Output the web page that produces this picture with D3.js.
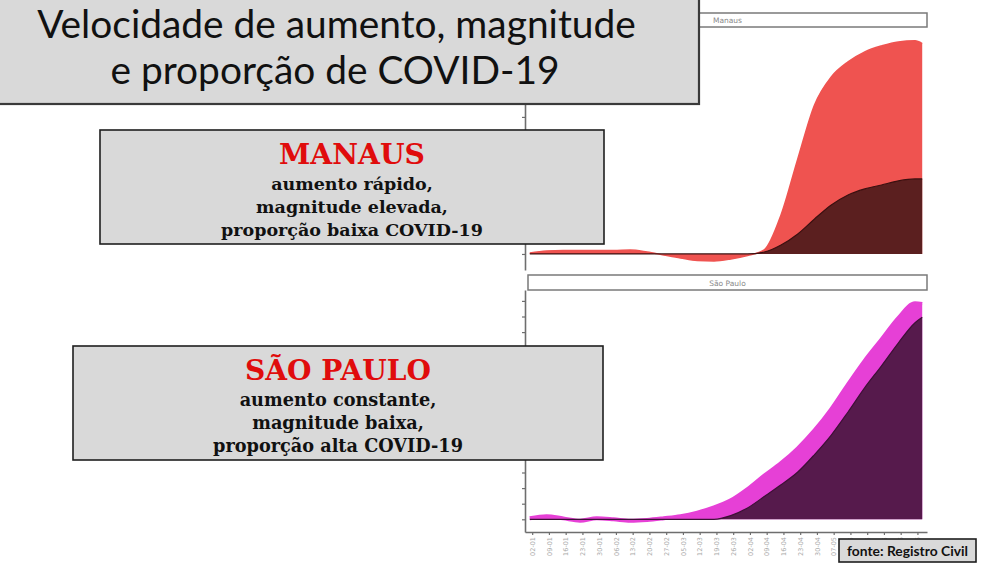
<!DOCTYPE html>
<html>
<head>
<meta charset="utf-8">
<script src="https://cdn.jsdelivr.net/npm/d3@7"></script>
<style>
  html, body { margin: 0; padding: 0; background: #ffffff; }
  svg { display: block; }
</style>
</head>
<body>
<svg id="chart" width="984" height="566"></svg>
<script>
// ---------- DATA ----------
const weekDates = ["2020-01-01","2020-01-08","2020-01-15","2020-01-22","2020-01-29","2020-02-05",
  "2020-02-12","2020-02-19","2020-02-26","2020-03-04","2020-03-11","2020-03-18","2020-03-25",
  "2020-04-01","2020-04-08","2020-04-15","2020-04-22","2020-04-29","2020-05-06","2020-05-13",
  "2020-05-20","2020-05-27","2020-06-03","2020-06-10","2020-06-13"];

const manausTotal = [15,44,51,51,51,51,58,29,-15,-58,-95,-102,-73,-22,60,569,1387,2175,2584,2803,2949,3036,3095,3110,3070];
const manausCovid = [0,0,0,0,0,0,0,0,0,0,0,0,0,0,29,131,292,511,715,861,949,1007,1066,1095,1095];

const spTotal = [64,200,60,-90,60,0,-90,-40,70,200,430,760,1220,1940,2800,3600,4550,5700,7060,8650,10170,11530,12900,13850,13800];
const spCovid = [0,0,0,0,0,0,0,0,0,0,0,0,240,730,1460,2210,3030,4150,5400,6880,8440,9840,11300,12600,12950];

const tickDates = ["2020-01-02","2020-01-09","2020-01-16","2020-01-23","2020-01-30","2020-02-06",
  "2020-02-13","2020-02-20","2020-02-27","2020-03-05","2020-03-12","2020-03-19","2020-03-26",
  "2020-04-02","2020-04-09","2020-04-16","2020-04-23","2020-04-30","2020-05-07","2020-05-14",
  "2020-05-21","2020-05-28","2020-06-04","2020-06-11"];

const manausYTicks = [0,1000,2000,3000];
const spYTicks = [0,1000,2000,3000,4000,5000,6000,7000,8000,9000,10000,11000,12000,13000,14000];

const panelNames = ["Manaus", "São Paulo"];
const titleLines = ["Velocidade de aumento, magnitude", "e proporção de COVID-19"];
const manausBox = ["MANAUS", "aumento rápido,", "magnitude elevada,", "proporção baixa COVID-19"];
const spBox = ["SÃO PAULO", "aumento constante,", "magnitude baixa,", "proporção alta COVID-19"];
const sourceText = "fonte: Registro Civil";

// ---------- SETUP ----------
const svg = d3.select("#chart");
const parse = d3.timeParse("%Y-%m-%d");
const dts = weekDates.map(parse);

const x = d3.scaleTime()
  .domain([new Date(2019, 11, 30), new Date(2020, 5, 15)])
  .range([525, 927]);

function fitText(sel, target) {
  const w = sel.node().getComputedTextLength();
  const fs = parseFloat(sel.attr("font-size"));
  sel.attr("font-size", fs * target / w);
}

function drawPanel(opts) {
  const g = svg.append("g");
  const y = d3.scaleLinear().domain(opts.domain).range([opts.bottom, opts.top]);
  const tot = dts.map((d, i) => ({ d, v: opts.total[i] }));
  const cov = dts.map((d, i) => ({ d, v: opts.covid[i] }));

  const area = d3.area()
    .x(p => x(p.d))
    .y0(y(0))
    .y1(p => y(p.v))
    .curve(d3.curveMonotoneX);
  const line = d3.line().x(p => x(p.d)).y(p => y(p.v)).curve(d3.curveMonotoneX);

  g.append("path").datum(tot).attr("d", area).attr("fill", opts.light);
  g.append("path").datum(tot).attr("d", line).attr("fill", "none")
    .attr("stroke", opts.light).attr("stroke-width", opts.lightStroke).attr("stroke-linejoin", "round");
  g.append("path").datum(cov).attr("d", area).attr("fill", opts.dark);
  g.append("path").datum(cov).attr("d", line).attr("fill", "none")
    .attr("stroke", opts.darkLine).attr("stroke-width", 1.2);

  // strip
  g.append("rect")
    .attr("x", 528).attr("y", opts.stripTop)
    .attr("width", 399).attr("height", opts.top - opts.stripTop)
    .attr("fill", "#ffffff").attr("stroke", "#7a7a7a").attr("stroke-width", 1.5);
  g.append("text")
    .attr("x", (528 + 927) / 2).attr("y", opts.stripTop + (opts.top - opts.stripTop) / 2 + 3)
    .attr("text-anchor", "middle")
    .attr("font-family", "DejaVu Sans, sans-serif").attr("font-size", 7.5)
    .attr("fill", "#8a8a8a")
    .text(opts.name);

  // y axis
  const ya = g.append("g").attr("transform", "translate(525,0)")
    .call(d3.axisLeft(y).tickValues(opts.yTicks).tickSize(3).tickSizeOuter(0).tickFormat(""));
  ya.select(".domain").attr("stroke", "#6e6e6e").attr("stroke-width", 1.6);
  ya.selectAll(".tick line").attr("stroke", "#6e6e6e").attr("stroke-width", 1.2);
  return y;
}

drawPanel({
  name: panelNames[0], stripTop: 13, top: 27, bottom: 270,
  domain: [-234, 3285 * (243 / 241)],
  total: manausTotal, covid: manausCovid,
  light: "#ef5350", lightStroke: 1.5, dark: "#5b1f1f", darkLine: "#3b1010",
  yTicks: manausYTicks
});

drawPanel({
  name: panelNames[1], stripTop: 275, top: 290, bottom: 532,
  domain: [-814, 14699],
  total: spTotal, covid: spCovid,
  light: "#e640d6", lightStroke: 4, dark: "#561a4c", darkLine: "#3d1036",
  yTicks: spYTicks
});

// x axis
const xa = svg.append("g").attr("transform", "translate(0,532)")
  .call(d3.axisBottom(x).tickValues(tickDates.map(parse)).tickSize(3).tickSizeOuter(0)
    .tickFormat(d3.timeFormat("%d-%m")));
xa.select(".domain").attr("stroke", "#6e6e6e").attr("stroke-width", 1.6);
xa.selectAll(".tick line").attr("stroke", "#6e6e6e").attr("stroke-width", 1.2);
xa.selectAll(".tick text")
  .attr("transform", "rotate(-90)")
  .attr("x", -5).attr("y", 0).attr("dy", "0.35em")
  .attr("text-anchor", "end")
  .attr("font-family", "DejaVu Sans, sans-serif")
  .attr("font-size", 6.5)
  .attr("fill", "#a8a8a8");

// ---------- TITLE BOX ----------
svg.append("rect").attr("x", -3).attr("y", -3).attr("width", 702).attr("height", 107)
  .attr("fill", "#d9d9d9").attr("stroke", "#3a3a3a").attr("stroke-width", 2.2);
const t1 = svg.append("text").attr("x", 336.5).attr("y", 37.5).attr("text-anchor", "middle")
  .attr("font-family", "Lato, sans-serif").attr("font-size", 36).attr("fill", "#111")
  .text(titleLines[0]);
fitText(t1, 599);
const t2 = svg.append("text").attr("x", 335).attr("y", 83.5).attr("text-anchor", "middle")
  .attr("font-family", "Lato, sans-serif").attr("font-size", t1.attr("font-size")).attr("fill", "#111")
  .text(titleLines[1]);

// ---------- TEXT BOXES ----------
function textBox(b) {
  svg.append("rect").attr("x", b.x0).attr("y", b.y0).attr("width", b.x1 - b.x0).attr("height", b.y1 - b.y0)
    .attr("fill", "#d9d9d9").attr("stroke", "#1e1e1e").attr("stroke-width", 1.6);
  const cx = (b.x0 + b.x1) / 2;
  const head = svg.append("text").attr("x", cx).attr("y", b.base[0]).attr("text-anchor", "middle")
    .attr("font-family", "DejaVu Serif, serif").attr("font-weight", "bold")
    .attr("font-size", 24).attr("fill", "#e00c0c").text(b.lines[0]);
  fitText(head, b.headW);
  const ref = svg.append("text").attr("x", cx).attr("y", b.base[3]).attr("text-anchor", "middle")
    .attr("font-family", "DejaVu Serif, serif").attr("font-weight", "bold")
    .attr("font-size", 16).attr("fill", "#111").text(b.lines[3]);
  fitText(ref, b.lastW);
  const fs = ref.attr("font-size");
  [1, 2].forEach(i => {
    svg.append("text").attr("x", cx).attr("y", b.base[i]).attr("text-anchor", "middle")
      .attr("font-family", "DejaVu Serif, serif").attr("font-weight", "bold")
      .attr("font-size", fs).attr("fill", "#111").text(b.lines[i]);
  });
}

textBox({ x0: 100, y0: 130, x1: 604, y1: 244, lines: manausBox,
  base: [164, 190, 213, 236], headW: 146, lastW: 262 });
textBox({ x0: 73, y0: 346, x1: 603, y1: 460, lines: spBox,
  base: [380, 406, 429, 452], headW: 186, lastW: 250 });

// ---------- SOURCE ----------
svg.append("rect").attr("x", 839).attr("y", 539).attr("width", 137).attr("height", 23)
  .attr("fill", "#d9d9d9").attr("stroke", "#1e1e1e").attr("stroke-width", 1.6);
const src = svg.append("text").attr("x", 907.5).attr("y", 556).attr("text-anchor", "middle")
  .attr("font-family", "Lato, sans-serif").attr("font-weight", "bold")
  .attr("font-size", 14).attr("fill", "#111").text(sourceText);
fitText(src, 121);
</script>
</body>
</html>
